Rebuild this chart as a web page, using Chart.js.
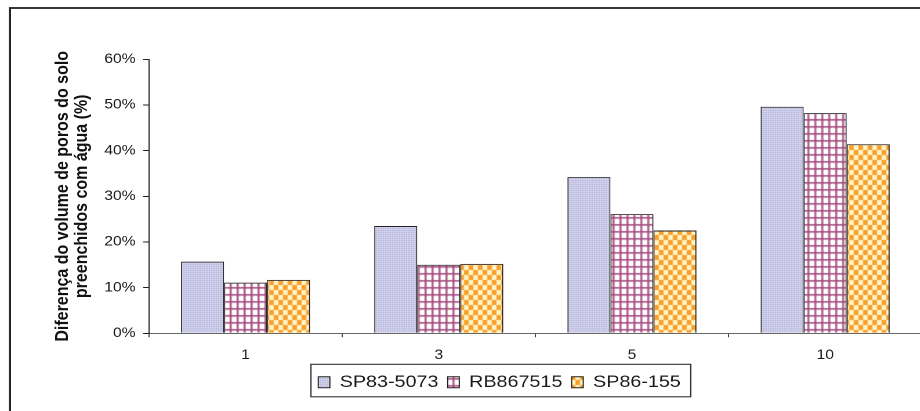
<!DOCTYPE html>
<html>
<head>
<meta charset="utf-8">
<script src="https://cdn.jsdelivr.net/npm/chart.js@4/dist/chart.umd.min.js"></script>
<style>
  html, body { margin: 0; padding: 0; background: #fff; width: 920px; height: 411px; overflow: hidden; }
  /* the chart is laid out narrower and widened horizontally, giving the wide lettering */
  #wrap { position: absolute; left: 0; top: 0; width: 800px; height: 411px; transform: scaleX(1.16); transform-origin: 0 0; }
  canvas { display: block; }
</style>
</head>
<body>
<div id="wrap"><canvas id="c" width="800" height="411"></canvas></div>
<script>
// Categories (x axis) and series values, in percent
const categories = ['1', '3', '5', '10'];
const seriesNames = ['SP83-5073', 'RB867515', 'SP86-155'];
const sp83_5073 = [15.7, 23.5, 34.2, 49.6];
const rb867515 = [11.1, 15.0, 26.1, 48.2];
const sp86_155 = [11.7, 15.2, 22.5, 41.4];
const yTickValues = [0, 10, 20, 30, 40, 50, 60];
const yTitle = ['Diferença do volume de poros do solo', 'preenchidos com água (%)'];

const FONT = "'Liberation Sans', Arial, Helvetica, sans-serif";

function makePattern(w, h, paint) {
  const c = document.createElement('canvas');
  c.width = w; c.height = h;
  const g = c.getContext('2d');
  paint(g, w, h);
  return g.createPattern(c, 'repeat');
}

// fine lavender dots
const dotFill = makePattern(2, 2, (g, w, h) => {
  g.fillStyle = '#d6d6ef'; g.fillRect(0, 0, w, h);
  g.fillStyle = '#a2a2d3'; g.fillRect(0, 0, 1, 1);
});
// maroon grid on white
const gridFill = makePattern(6, 7, (g, w, h) => {
  g.fillStyle = '#ffffff'; g.fillRect(0, 0, w, h);
  g.fillStyle = '#a54a7e'; g.fillRect(0, 0, 1.6, h); g.fillRect(0, 0, w, 1.6);
});
// orange / cream checkerboard
const checkFill = makePattern(8, 10, (g, w, h) => {
  g.fillStyle = '#fff4c6'; g.fillRect(0, 0, w, h);
  g.fillStyle = '#f99f2c'; g.fillRect(0, 0, w / 2, h / 2); g.fillRect(w / 2, h / 2, w / 2, h / 2);
});

// outer frame and the box around the legend
const decorPlugin = {
  id: 'decor',
  afterDraw(chart) {
    const ctx = chart.ctx;
    ctx.save();
    ctx.strokeStyle = '#222';
    ctx.lineWidth = 1.8;
    ctx.strokeRect(8.6, 8, 900, 500);
    const hb = chart.legend && chart.legend.legendHitBoxes;
    if (hb && hb.length) {
      const first = hb[0], last = hb[hb.length - 1];
      const x0 = first.left - 6.3;
      const x1 = last.left + last.width + 8.6;
      const y0 = first.top - 9.5;
      const y1 = first.top + first.height + 6;
      ctx.lineWidth = 1.1;
      ctx.strokeStyle = '#333';
      ctx.strokeRect(x0, y0, x1 - x0, y1 - y0);
    }
    ctx.restore();
  }
};

const ds = (label, data, fill) => ({
  label, data,
  backgroundColor: fill,
  borderColor: '#222',
  borderWidth: 1,
  categoryPercentage: 0.668,
  barPercentage: 1.0
});

new Chart(document.getElementById('c'), {
  type: 'bar',
  data: {
    labels: categories,
    datasets: [
      ds(seriesNames[0], sp83_5073, dotFill),
      ds(seriesNames[1], rb867515, gridFill),
      ds(seriesNames[2], sp86_155, checkFill)
    ]
  },
  options: {
    responsive: false,
    animation: false,
    devicePixelRatio: 2,
    layout: { padding: { left: 66.65, right: 5.4, top: 59.3, bottom: 10.2 } },
    plugins: {
      tooltip: { enabled: false },
      legend: {
        position: 'bottom',
        labels: {
          font: { family: FONT, size: 17 },
          color: '#1a1a1a',
          boxWidth: 10,
          boxHeight: 11,
          padding: 8
        }
      }
    },
    scales: {
      x: {
        offset: true,
        grid: { display: true, drawOnChartArea: false, drawTicks: true, tickLength: 4, color: '#444', offset: true },
        border: { display: true, color: '#666', width: 1 },
        ticks: { font: { family: FONT, size: 13.5 }, color: '#1a1a1a', padding: 10, maxRotation: 0 },
        afterFit(s) { s.height = 32.5; }
      },
      y: {
        min: 0,
        max: 60,
        afterBuildTicks(s) { s.ticks = yTickValues.map(v => ({ value: v })); },
        grid: { display: true, drawOnChartArea: false, drawTicks: true, tickLength: 5, color: '#222' },
        border: { display: true, color: '#222', width: 1 },
        ticks: { font: { family: FONT, size: 13.5 }, color: '#1a1a1a', padding: 6.5, callback: v => v + '%' },
        title: {
          display: true,
          text: yTitle,
          color: '#111',
          font: { family: FONT, size: 16, weight: 'bold', lineHeight: 1.03 },
          padding: { top: -20.7, bottom: 0 }
        },
        afterFit(s) { s.width = 128.4 - 66.65; }
      }
    }
  },
  plugins: [decorPlugin]
});
</script>
</body>
</html>
